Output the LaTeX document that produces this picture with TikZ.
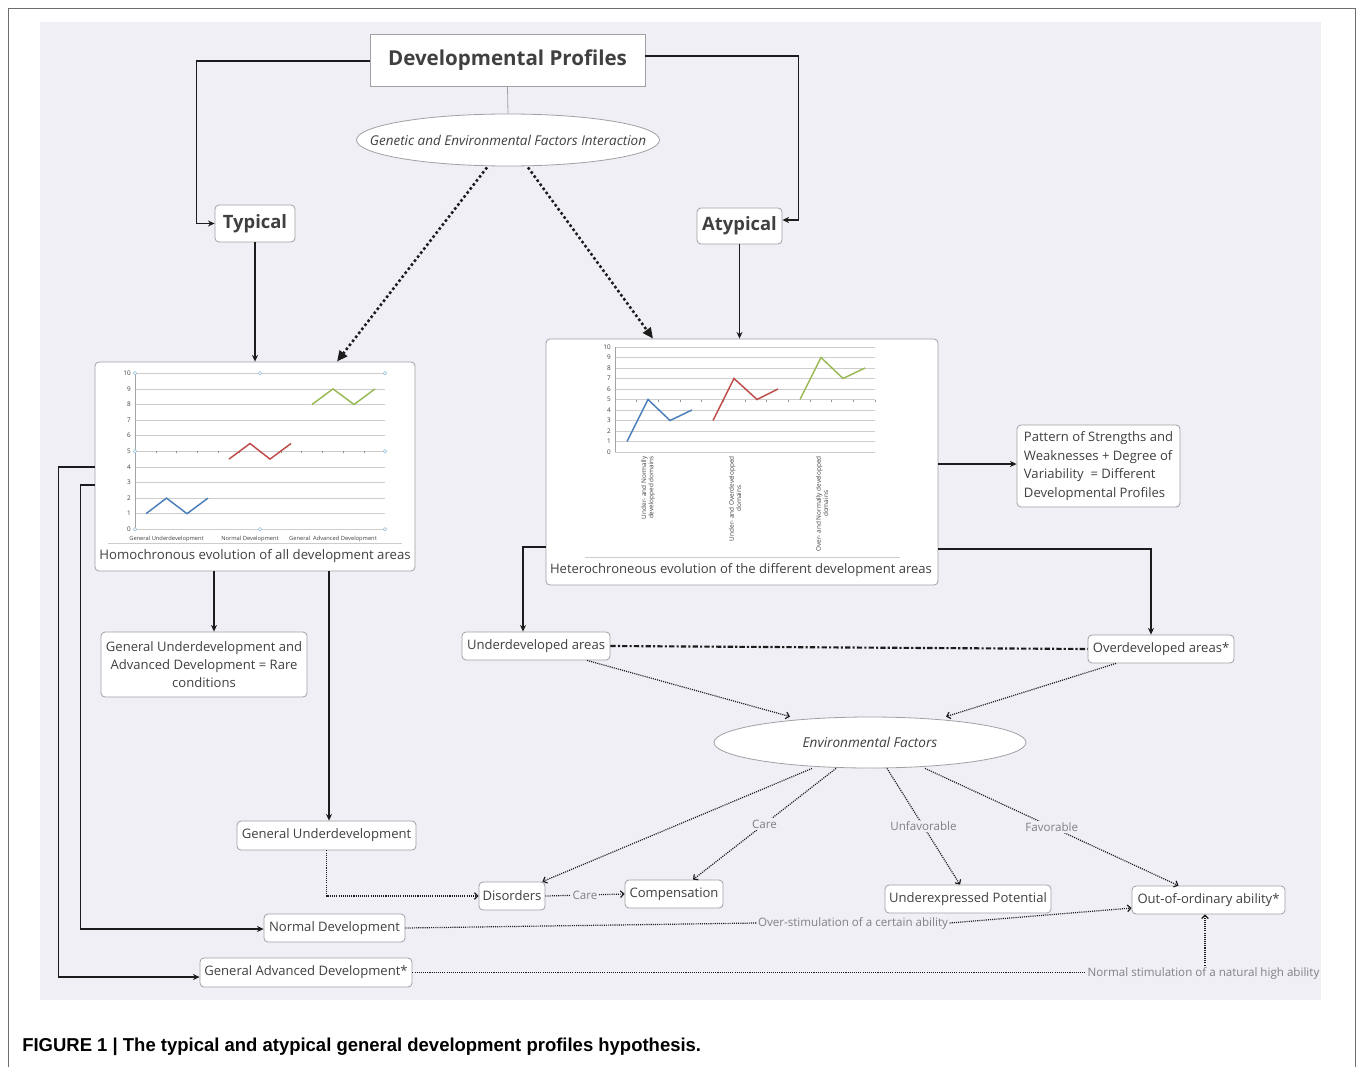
\documentclass[tikz,border=0pt]{standalone}
\usepackage{fontspec}
\setmainfont{Open Sans}
\newfontfamily\capfont{Liberation Sans}
\usetikzlibrary{arrows.meta,calc,shapes.geometric}
\definecolor{bgpanel}{RGB}{239,239,245}
\definecolor{boxline}{RGB}{160,160,165}
\definecolor{txt}{RGB}{64,64,64}
\definecolor{lbl}{RGB}{128,128,133}
\definecolor{conn}{RGB}{28,28,28}
\definecolor{sblue}{RGB}{74,126,187}
\definecolor{sred}{RGB}{190,75,72}
\definecolor{sgreen}{RGB}{152,185,84}
\definecolor{gridc}{RGB}{205,205,205}
\definecolor{handle}{RGB}{150,190,215}
\definecolor{frame}{RGB}{110,110,110}
\tikzset{
  box/.style={draw=boxline, fill=white, rounded corners=3pt, text=txt,
    font=\fontsize{9.8}{13.8}\selectfont, inner sep=2pt, align=center, line width=0.6pt},
  conn/.style={draw=conn, line width=1.3pt, -{Stealth[length=5pt,width=4.5pt]}},
  dconn/.style={draw=conn, line width=0.9pt, dash pattern=on 0.8pt off 0.8pt,
    -{Straight Barb[length=2.5pt,width=5pt,line width=0.9pt]}},
  bdot/.style={draw=conn, line width=1.9pt, dash pattern=on 1.9pt off 1.9pt,
    -{Triangle[length=8pt,width=7pt]}},
  elbl/.style={fill=bgpanel, text=lbl, font=\fontsize{8.7}{10}\selectfont, inner sep=1pt},
  tick/.style={font=\fontsize{4.8}{5.4}\selectfont, text=txt, inner sep=0pt},
  cat/.style={font=\fontsize{4.3}{5.2}\selectfont, text=txt, inner sep=0pt},
  series/.style={line width=1.1pt, line join=miter},
}
\begin{document}
\begin{tikzpicture}[x=0.75pt,y=-0.75pt]
\useasboundingbox (0,0) rectangle (1358,1066);
\fill[white] (0,0) rectangle (1358,1066);
\draw[frame, line width=0.7pt] (8,1070) -- (8,8) -- (1355,8) -- (1355,1070);
\fill[bgpanel] (40,22) rectangle (1321,1000);

% ---------- nodes ----------
\node[draw=boxline, fill=white, line width=0.6pt, text=txt, minimum width=206.25pt, minimum height=39pt,
  font=\bfseries\fontsize{15.4}{17}\selectfont] (dp) at (507.5,60) {Developmental Profiles};
\node[ellipse, draw=boxline, fill=white, line width=0.6pt, minimum width=227.25pt, minimum height=39pt, inner sep=0pt,
  label={[text=txt, font=\itshape\fontsize{10.1}{11}\selectfont, inner sep=0pt]center:Genetic and Environmental Factors Interaction}]
  (gef) at (508,140) {};
\node[box, minimum width=60pt, minimum height=27.75pt, font=\bfseries\fontsize{13.8}{15}\selectfont] (typ) at (255,223.5) {Typical};
\node[box, minimum width=63.75pt, minimum height=27pt, font=\bfseries\fontsize{13.8}{15}\selectfont] (atyp) at (739.5,226) {Atypical};
\node[box, minimum width=240pt, minimum height=156.75pt] (ch1) at (255,466.5) {};
\node[box, minimum width=294pt, minimum height=184.5pt] (ch2) at (742,462) {};
\node[box, align=left, minimum width=122.25pt, minimum height=61.5pt] (pat) at (1098.5,466)
  {Pattern of Strengths and\\Weaknesses + Degree of\\Variability \ = Different\\Developmental Profiles};
\node[box, minimum width=154.5pt, minimum height=48.75pt] (rare) at (204,664.5)
  {General Underdevelopment and\\Advanced Development = Rare\\conditions};
\node[box, minimum width=134.25pt, minimum height=21.75pt] (gu) at (326.5,835.5) {General Underdevelopment};
\node[box, minimum width=105.75pt, minimum height=21pt] (nd) at (334.5,928) {Normal Development};
\node[box, minimum width=159pt, minimum height=21.75pt] (gad) at (306,972.5) {General Advanced Development*};
\node[box, minimum width=111pt, minimum height=21pt] (ua) at (536,646) {Underdeveloped areas};
\node[box, minimum width=109.5pt, minimum height=21pt] (oa) at (1161,649) {Overdeveloped areas*};
\node[ellipse, draw=boxline, fill=white, line width=0.6pt, text=txt, minimum width=234pt, minimum height=38.25pt,
  inner sep=0pt, font=\itshape\fontsize{10.2}{11}\selectfont] (env) at (870,742.5) {Environmental Factors};
\node[box, minimum width=49.5pt, minimum height=21pt] (dis) at (512,896) {Disorders};
\node[box, minimum width=73.5pt, minimum height=21pt] (comp) at (674,894) {Compensation};
\node[box, minimum width=124.5pt, minimum height=21pt] (up) at (968,899) {Underexpressed Potential};
\node[box, minimum width=114.75pt, minimum height=21pt] (ooa) at (1208.5,900) {Out-of-ordinary ability*};

% ---------- chart 1 ----------
\foreach \i in {0,...,10} {
  \draw[gridc, line width=0.5pt] (135,{529.3-15.6*\i}) -- (385,{529.3-15.6*\i});
  \node[tick, anchor=east] at (131,{529.3-15.6*\i}) {\i};
}
\draw[gridc!80!black, line width=0.5pt] (135,373.3) -- (135,529.3);
\foreach \k in {1,...,11} { \draw[gridc!70!black, line width=0.4pt] ({135+20.83*\k},451.3) -- ({135+20.83*\k},453.3); }
\foreach \p in {(135,373.3),(260,373.3),(385,373.3),(135,451.3),(385,451.3),(135,529.3),(260,529.3),(385,529.3)}
  { \draw[handle, line width=0.4pt, fill=white] \p circle[radius=1.3pt]; }
\draw[sblue, series] (146,513.7) -- (166.5,498.1) -- (187,513.7) -- (208,498.1);
\draw[sred, series] (229,459.1) -- (250,443.5) -- (270,459.1) -- (291,443.5);
\draw[sgreen, series] (312,404.5) -- (333,388.9) -- (354,404.5) -- (375,388.9);
\node[cat] at (166.5,539) {General Underdevelopment};
\node[cat] at (250,539) {Normal Development};
\node[cat] at (333,539) {General \ Advanced Development};
\draw[gridc, line width=0.5pt] (108,543) -- (402,543);
\node[text=txt, font=\fontsize{9.9}{11}\selectfont, inner sep=0pt] at (255,556) {Homochronous evolution of all development areas};

% ---------- chart 2 ----------
\foreach \i in {0,...,10} {
  \draw[gridc, line width=0.5pt] (615,{452-10.5*\i}) -- (875,{452-10.5*\i});
  \node[tick, anchor=east] at (611,{452-10.5*\i}) {\i};
}
\draw[gridc!80!black, line width=0.5pt] (615,347) -- (615,452);
\foreach \k in {1,...,12} { \draw[gridc!70!black, line width=0.4pt] ({615+21.67*\k},399.5) -- ({615+21.67*\k},401.5); }
\draw[sblue, series] (627,441.5) -- (648,399.5) -- (670,420.5) -- (692,410);
\draw[sred, series] (713,420.5) -- (734,378.5) -- (757,399.5) -- (778,389);
\draw[sgreen, series] (800,399.5) -- (821,357.5) -- (843,378.5) -- (865,368);
\node[tick, rotate=90, anchor=east, align=center] at (648,456) {Under- and Normally\\developped domains};
\node[tick, rotate=90, anchor=east, align=center] at (735,456) {Under- and Overdevelopped\\domains};
\node[tick, rotate=90, anchor=east, align=center] at (822,456) {Over- and Normally developped\\domains};
\draw[gridc, line width=0.5pt] (585,557) -- (900,557);
\node[text=txt, font=\fontsize{9.8}{11}\selectfont, inner sep=0pt] at (741,570) {Heterochroneous evolution of the different development areas};

% ---------- connectors ----------
\draw[boxline, line width=0.6pt] (dp.south) -- (gef.north);
\draw[conn] ([yshift=-0.75pt]dp.west) -- ++(-173,0) |- (typ.west);
\draw[conn] ([yshift=3pt]dp.east) -- ++(153,0) |- ([yshift=4.5pt]atyp.east);
\draw[conn] (typ.south) -- (typ.south |- ch1.north);
\draw[conn] (atyp.south) -- (atyp.south |- ch2.north);
\draw[bdot] ($(gef.south)+(-21,1)$) -- ($(ch1.north)+(82,0)$);
\draw[bdot] ($(gef.south)+(20,1)$) -- ($(ch2.north)+(-89,0)$);
\draw[conn] ([yshift=-1.5pt]ch2.east) -- ([yshift=-1.5pt]ch2.east -| pat.west);
\draw[conn] ($(ch1.south)+(-41,0)$) -- ($(rare.north)+(10,0)$);
\draw[conn] ($(ch1.south)+(74,0)$) -- ($(gu.north)+(2.5,0)$);
\draw[conn] ($(ch1.west)+(0,0.5)$) -- ++(-36,0) |- ([yshift=-3.4pt]gad.west);
\draw[conn] ($(ch1.west)+(0,18.5)$) -- ++(-14,0) |- ([yshift=-0.75pt]nd.west);
\draw[conn] ($(ch2.west)+(0,85)$) -| ($(ua.north)+(-13,0)$);
\draw[conn] ($(ch2.east)+(0,87)$) -| ($(oa.north)+(-10,0)$);
\draw[draw=conn, line width=1.6pt, dash pattern=on 4pt off 1.6pt on 1.6pt off 1.6pt] (ua.east) -- (oa.west);
\draw[dconn] ($(ua.south)+(51,0)$) -- ($(env.north)+(-80,0)$);
\draw[dconn] ($(oa.south)+(-45,0)$) -- ($(env.north)+(76,0)$);
\draw[dconn] ($(env.south)+(-58,0)$) -- ($(dis.north east)+(-3,0)$);
\draw[dconn] ($(env.south)+(-34,0)$) -- node[elbl] {Care} ($(comp.north)+(19,0)$);
\draw[dconn] ($(env.south)+(17,0)$) -- node[elbl] {Unfavorable} ($(up.north)+(-8,0)$);
\draw[dconn] ($(env.south)+(55,0)$) -- node[elbl] {Favorable} ($(ooa.north)+(-30,0)$);
\draw[dconn] (gu.south) |- (dis.west);
\draw[dconn] (dis.east) -- node[elbl] {Care} (comp.west);
\node[elbl, fill=none] (ovs) at (853,923) {Over-stimulation of a certain ability};
\node[elbl, fill=none] (nsa) at (1203.5,973) {Normal stimulation of a natural high ability};
\draw[dconn, -] (nd.east) -- (ovs.west);
\draw[dconn] (ovs.east) -- ([yshift=-6pt]ooa.west);
\draw[dconn, -] (gad.east) -- (gad.east -| nsa.west);
\draw[dconn] ($(nsa.north)+(1.5,0)$) -- ($(ooa.south)+(-3.5,0)$);

% ---------- caption ----------
\node[anchor=west, inner sep=0pt, text=black, font=\capfont\bfseries\fontsize{14}{16}\selectfont] (cap) at (22,1047)
  {\scalebox{0.99}[1]{FIGURE 1 | The typical and atypical general development profiles hypothesis.}};
\end{tikzpicture}
\end{document}
